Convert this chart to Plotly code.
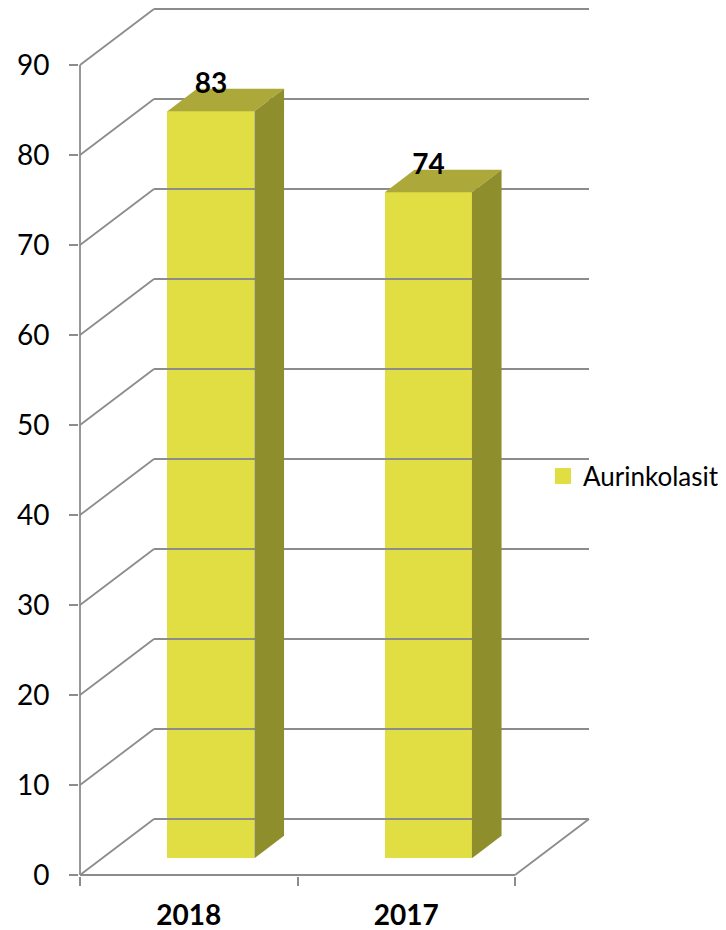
import plotly.graph_objects as go

# ---- data ----
categories = ["2018", "2017"]
values = [83, 74]
series_name = "Aurinkolasit"
y_ticks = [0, 10, 20, 30, 40, 50, 60, 70, 80, 90]

# ---- pseudo-3D geometry (in axis units) ----
PX_X = 217.5         # pixels per category
PX_Y = 9.0           # pixels per value unit
DX = 74 / PX_X       # full depth, horizontal component (x units)
DY = 56 / PX_Y       # full depth, vertical component (y units)
D_FRONT, D_BACK = 0.30, 0.70   # bar depth position (fraction of depth)
BAR_W = 0.4

GRID = "#8C8C8C"
FRONT = "#E1DE43"
TOP = "#ADA83A"
SIDE = "#8E8E2C"
FONT = "Lato"

x_lo, x_hi = -0.5, len(categories) - 0.5
ymax = y_ticks[-1]

fig = go.Figure()

def line(xs, ys):
    fig.add_trace(go.Scatter(x=xs, y=ys, mode="lines", line=dict(color=GRID, width=1.8),
                             showlegend=False, hoverinfo="skip"))

# back wall gridlines + left wall diagonals
for v in y_ticks:
    line([x_lo + DX, x_hi + DX], [v + DY, v + DY])
    line([x_lo, x_lo + DX], [v, v + DY])
# left axis line, floor front edge, floor right edge
line([x_lo, x_lo], [0, ymax])
line([x_lo, x_hi], [0, 0])
line([x_hi, x_hi + DX], [0, DY])

# bars (front faces)
fx, fy = D_FRONT * DX, D_FRONT * DY
bx, by = D_BACK * DX, D_BACK * DY
xc = [i + fx for i in range(len(categories))]
fig.add_trace(go.Bar(x=xc, y=values, base=[fy] * len(values), width=BAR_W,
                     marker=dict(color=FRONT, line=dict(width=0)), name=series_name,
                     legendgroup="s", showlegend=False, hoverinfo="skip"))

# top and side faces
ddx, ddy = bx - fx, by - fy
for c, v in zip(xc, values):
    x0, x1 = c - BAR_W / 2, c + BAR_W / 2
    fig.add_trace(go.Scatter(x=[x0, x1, x1 + ddx, x0 + ddx, x0],
                             y=[v + fy, v + fy, v + by, v + by, v + fy],
                             mode="lines", fill="toself", fillcolor=TOP, line=dict(width=0, color=TOP),
                             showlegend=False, hoverinfo="skip"))
    fig.add_trace(go.Scatter(x=[x1, x1, x1 + ddx, x1 + ddx, x1],
                             y=[fy, v + fy, v + by, by, fy],
                             mode="lines", fill="toself", fillcolor=SIDE, line=dict(width=0, color=SIDE),
                             showlegend=False, hoverinfo="skip"))

# data labels (above the middle of the top face)
fig.add_trace(go.Scatter(x=xc, y=[v + (fy + by) / 2 for v in values], mode="text",
                         text=[str(v) for v in values], textposition="top center",
                         textfont=dict(family=FONT, size=28, color="black", weight="bold"),
                         showlegend=False, hoverinfo="skip", cliponaxis=False))

# legend entry (larger square swatch like the original)
fig.add_trace(go.Scatter(x=[None], y=[None], mode="markers", name=series_name, legendgroup="s",
                         marker=dict(symbol="square", size=16, color=FRONT, line=dict(width=0)),
                         showlegend=True, hoverinfo="skip"))

# invisible trace for category labels on second axis
fig.add_trace(go.Scatter(x=list(range(len(categories))), y=[0] * len(categories), xaxis="x2",
                         mode="markers", marker=dict(opacity=0), showlegend=False, hoverinfo="skip"))

# page body has an 8px margin -> figure is 718x922 in a 726x930 window
W, H = 718, 922
ZX, ZY = 72, 867          # pixel of (x_lo, 0) inside the figure
L, R = 71, 592
T, B = 0, 868
xr = [x_lo - (ZX - L) / PX_X, x_lo + (R - ZX) / PX_X]
yr = [(ZY - B) / PX_Y, (ZY - T) / PX_Y]

fig.update_layout(
    width=W, height=H,
    margin=dict(l=L, r=W - R, t=T, b=H - B, autoexpand=False),
    plot_bgcolor="white", paper_bgcolor="white",
    font=dict(family=FONT, color="black"),
    xaxis=dict(range=xr, showgrid=False, zeroline=False, showline=False,
               tickmode="array", tickvals=[x_lo + k for k in range(len(categories) + 1)],
               ticktext=[""] * (len(categories) + 1),
               ticks="outside", ticklen=9, tickwidth=1.8, tickcolor=GRID),
    xaxis2=dict(range=xr, overlaying="x", anchor="y", side="bottom", showgrid=False,
                zeroline=False, showline=False, tickmode="array",
                tickvals=list(range(len(categories))), ticktext=categories,
                tickfont=dict(family=FONT, size=28, color="black", weight="bold"),
                ticks="", ticklabelstandoff=20),
    yaxis=dict(range=yr, showgrid=False, zeroline=False, showline=False,
               tickmode="array", tickvals=y_ticks,
               ticks="outside", ticklen=9, tickwidth=1.8, tickcolor=GRID,
               tickfont=dict(family=FONT, size=28, color="black"), ticklabelstandoff=14),
    legend=dict(x=(535 - L) / (R - L), xanchor="left", y=(B - 468) / (B - T), yanchor="middle",
                font=dict(family=FONT, size=26, color="black"), bgcolor="rgba(0,0,0,0)",
                itemwidth=30, itemsizing="trace"),
    bargap=0,
)

fig.write_html("out.html", config={"displayModeBar": False})
